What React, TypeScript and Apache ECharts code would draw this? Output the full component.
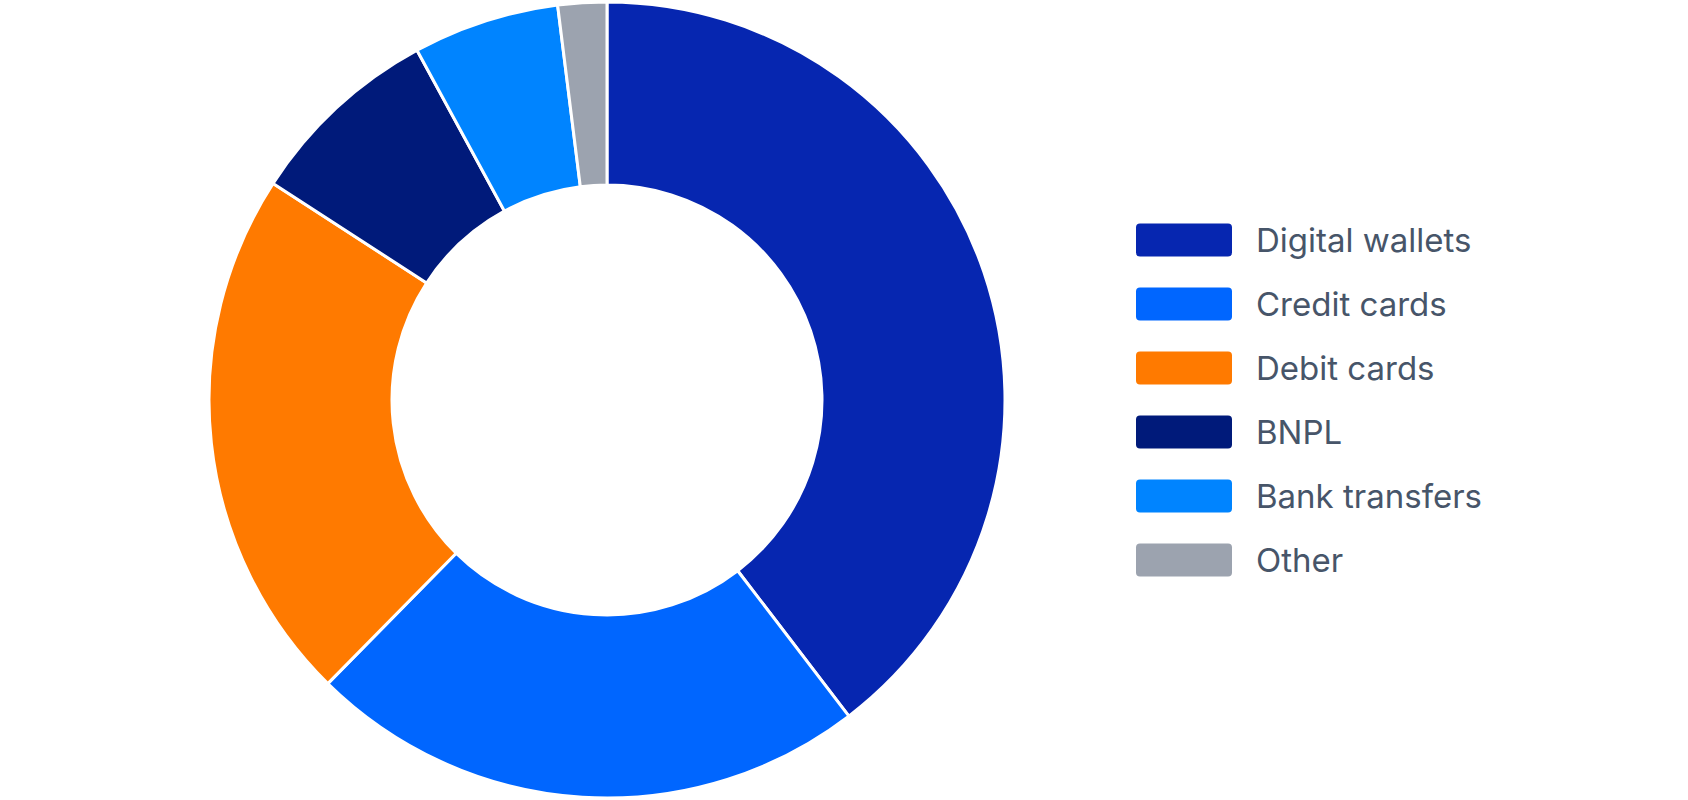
import React, { useEffect, useRef } from 'react';
import * as echarts from 'echarts';

const categories = ['Digital wallets', 'Credit cards', 'Debit cards', 'BNPL', 'Bank transfers', 'Other'];
const shares = [40, 23, 22, 8, 6, 2];
const colors = ['#0626B0', '#0066FF', '#FF7A00', '#001A7A', '#0084FF', '#9CA3AF'];

// rounded rect for legend swatches (small corner radius)
const swatch =
  'path://M4,0 H92 A4,4 0 0 1 96,4 V29 A4,4 0 0 1 92,33 H4 A4,4 0 0 1 0,29 V4 A4,4 0 0 1 4,0 Z';

const App: React.FC = () => {
  const chartRef = useRef<HTMLDivElement>(null);

  useEffect(() => {
    if (!chartRef.current) return;
    const chart = echarts.init(chartRef.current, undefined, { renderer: 'svg' });

    chart.setOption({
      animation: false,
      color: colors,
      legend: {
        orient: 'vertical',
        left: 1136,
        top: 'middle',
        padding: 0,
        icon: swatch,
        itemWidth: 96,
        itemHeight: 33,
        itemGap: 31,
        selectedMode: false,
        itemStyle: { borderWidth: 0 },
        textStyle: {
          fontFamily: 'Inter, sans-serif',
          fontSize: 33,
          color: '#475569',
          padding: [0, 0, 0, 19],
        },
        data: categories,
      },
      series: [
        {
          type: 'pie',
          center: [607, 400],
          radius: [215, 398],
          startAngle: 90,
          clockwise: true,
          silent: true,
          label: { show: false },
          labelLine: { show: false },
          itemStyle: { borderColor: '#fff', borderWidth: 3 },
          data: categories.map((name, i) => ({ name, value: shares[i] })),
        },
      ],
    });

    return () => {
      chart.dispose();
    };
  }, []);

  return (
    <div
      ref={chartRef}
      style={{ position: 'fixed', left: 0, top: 0, width: '1688px', height: '800px', background: '#fff' }}
    />
  );
};

export default App;
